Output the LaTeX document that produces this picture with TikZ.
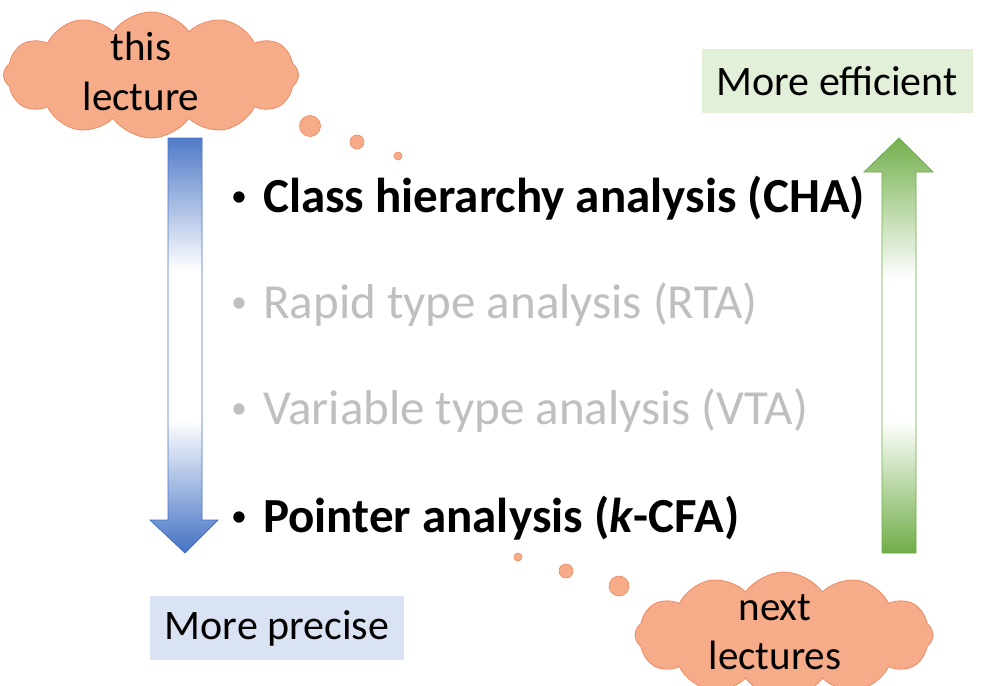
\documentclass[tikz,border=0pt]{standalone}
\usepackage{fontspec}
\setmainfont{Carlito}
\usetikzlibrary{shapes.symbols}

\definecolor{cloudfill}{RGB}{246,172,137}
\definecolor{clouddraw}{RGB}{236,138,100}
\definecolor{blueA}{RGB}{68,114,196}
\definecolor{blueB}{RGB}{80,122,200}
\definecolor{greenA}{RGB}{112,173,71}
\definecolor{greenB}{RGB}{116,176,78}
\definecolor{greyText}{RGB}{191,191,191}
\definecolor{boxGreen}{RGB}{226,240,217}
\definecolor{boxBlue}{RGB}{218,227,243}

% vertical gradients for the two long arrows (path box maps to 25bp..75bp)
\pgfdeclareverticalshading{downshade}{100bp}{color(0bp)=(blueA); color(25bp)=(blueA); color(41bp)=(white); color(59bp)=(white); color(75bp)=(blueB); color(100bp)=(blueB)}
\pgfdeclareverticalshading{upshade}{100bp}{color(0bp)=(greenA); color(25bp)=(greenA); color(41bp)=(white); color(58bp)=(white); color(75bp)=(greenB); color(100bp)=(greenB)}

\newcommand{\itembullet}{\makebox[32pt][l]{\raisebox{6pt}{\fontsize{32}{32}\selectfont\textbullet}}}

\tikzset{
  thought/.style={shape=cloud, cloud puffs=12, cloud puff arc=110, aspect=2.4,
    fill=cloudfill, draw=clouddraw, line width=0.8pt, inner sep=0pt},
  bubble/.style={circle, fill=cloudfill, draw=clouddraw, line width=0.6pt, inner sep=0pt},
  cloudtext/.style={font=\fontsize{41}{45}\selectfont, anchor=base, inner sep=0pt},
  item/.style={anchor=base west, inner sep=0pt, font=\fontsize{49}{54}\selectfont},
  labelbox/.style={font=\fontsize{42}{46}\selectfont, inner sep=0pt, minimum height=64pt},
}

\begin{document}
\begin{tikzpicture}[x=1pt,y=-1pt]
\useasboundingbox (0,0) rectangle (1006,685);
\fill[white] (0,0) rectangle (1006,685);

% clouds and their trailing bubbles
\node[thought, minimum width=295pt, minimum height=126pt] (c1) at (151,75) {};
\node[cloudtext] (t1) at (141,60) {this};
\node[cloudtext] (t2) at (141,110) {lecture};
\node[bubble, minimum size=21pt] (b1) at (310,126) {};
\node[bubble, minimum size=14pt] (b2) at (357,142) {};
\node[bubble, minimum size=8pt] (b3) at (398,156) {};

\begin{scope}
\clip (0,0) rectangle (1006,685);
\node[thought, minimum width=298pt, minimum height=126pt] (c2) at (784,635) {};
\end{scope}
\node[cloudtext] (t3) at (775,620) {next};
\node[cloudtext] (t4) at (775,669) {lectures};
\node[bubble, minimum size=8pt] (b4) at (518,557) {};
\node[bubble, minimum size=14pt] (b5) at (566,571) {};
\node[bubble, minimum size=20pt] (b6) at (619,586) {};

% downward arrow: more precise
\shade[shading=downshade, draw=blueA, line width=0.8pt, line join=miter]
  (168,138) -- (202,138) -- (202,520) -- (218,520) -- (185,553)
  -- (150,520) -- (168,520) -- cycle;
% upward arrow: more efficient
\shade[shading=upshade, draw=greenA, line width=0.8pt, line join=miter]
  (882,553) -- (916,553) -- (916,172) -- (933,172) -- (899,138)
  -- (864,172) -- (882,172) -- cycle;

% labels at the arrow ends
\node[labelbox, fill=boxGreen, minimum width=271pt] (eff) at (837,81) {More efficient};
\node[labelbox, fill=boxBlue, minimum width=254pt] (pre) at (277,628) {More precise};

% the four analyses
\node[item] (l1) at (231,212) {\itembullet\textbf{Class hierarchy analysis (CHA)}};
\node[item, text=greyText] (l2) at (231,318) {\itembullet Rapid type analysis (RTA)};
\node[item, text=greyText] (l3) at (231,424) {\itembullet Variable type analysis (VTA)};
\node[item] (l4) at (231,532) {\itembullet\textbf{Pointer analysis (\textit{k}-CFA)}};
\end{tikzpicture}
\end{document}
